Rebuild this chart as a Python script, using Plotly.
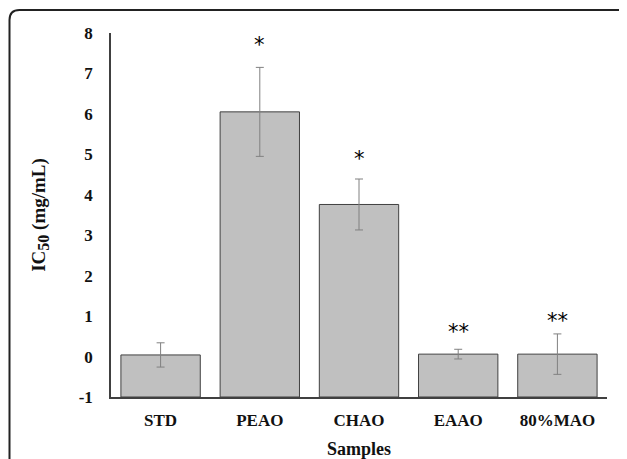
import plotly.graph_objects as go

samples = ["STD", "PEAO", "CHAO", "EAAO", "80%MAO"]
ic50 = [0.04, 6.05, 3.76, 0.06, 0.06]
err = [0.30, 1.10, 0.63, 0.12, 0.50]
sig = ["", "*", "*", "**", "**"]
sig_shift = [0, 8, 6, 3, -1]
axis_min = -1

# page is offset by the 8px body margin
W, H = 619, 451
L, R, T, B = 103, 20, 25, 62
pw, ph = W - L - R, H - T - B

def px(x):
    return (x - L) / pw

def py(y):
    return (H - B - y) / ph

fig = go.Figure()
fig.add_trace(go.Bar(
    x=samples, y=[v - axis_min for v in ic50], base=axis_min,
    marker=dict(color="#c0c0c0", line=dict(color="#404040", width=1)),
    width=0.8, hoverinfo="skip",
))
fig.add_trace(go.Scatter(
    x=samples, y=ic50, mode="markers",
    marker=dict(size=1, color="rgba(0,0,0,0)"),
    error_y=dict(type="data", array=err, visible=True, color="#808080",
                 thickness=1, width=4),
))

for s, v, e, t, sh in zip(samples, ic50, err, sig, sig_shift):
    if t:
        fig.add_annotation(x=s, y=v + e, text=t, showarrow=False,
                           yanchor="bottom", yshift=sh,
                           font=dict(family="DejaVu Sans", size=21, color="#000"))

# rounded frame
x0, x1 = px(1.5), px(618)
y0, y1 = py(470), py(2)
rx, ry = 10 / pw, 10 / ph
path = (f"M {x0},{y0} L {x0},{y1 - ry} Q {x0},{y1} {x0 + rx},{y1} "
        f"L {x1},{y1} L {x1},{y1 - 3 / ph}")
fig.add_shape(type="path", path=path, xref="paper", yref="paper",
              line=dict(color="#222", width=2))

tick_font = dict(family="Liberation Serif", size=17, color="#111")
fig.update_layout(
    width=W, height=H,
    margin=dict(l=L, r=R, t=T, b=B, autoexpand=False),
    paper_bgcolor="white", plot_bgcolor="white",
    showlegend=False,
    font=dict(family="Liberation Serif", color="#111"),
    xaxis=dict(
        automargin=False,
        showline=True, linecolor="#404040", linewidth=1.5,
        showgrid=False, zeroline=False,
        ticks="outside", ticklen=7, tickcolor="rgba(0,0,0,0)",
        tickfont=tick_font,
        tickvals=samples, ticktext=[f"<b>{s}</b>" for s in samples],
        title=dict(text="<b>Samples</b>", font=dict(size=18), standoff=14),
    ),
    yaxis=dict(
        automargin=False,
        range=[-1, 8], tickvals=list(range(-1, 9)),
        ticktext=[f"<b>{v}</b>" for v in range(-1, 9)],
        showline=True, linecolor="#404040", linewidth=1.5,
        showgrid=False, zeroline=False,
        ticks="outside", ticklen=13, tickcolor="rgba(0,0,0,0)",
        tickfont=tick_font,
        title=dict(text="<b>IC<sub><span style='font-size:16px'>50</span></sub> (mg/mL)</b>",
                   font=dict(size=19), standoff=28),
    ),
)

fig.write_html("out.html")
